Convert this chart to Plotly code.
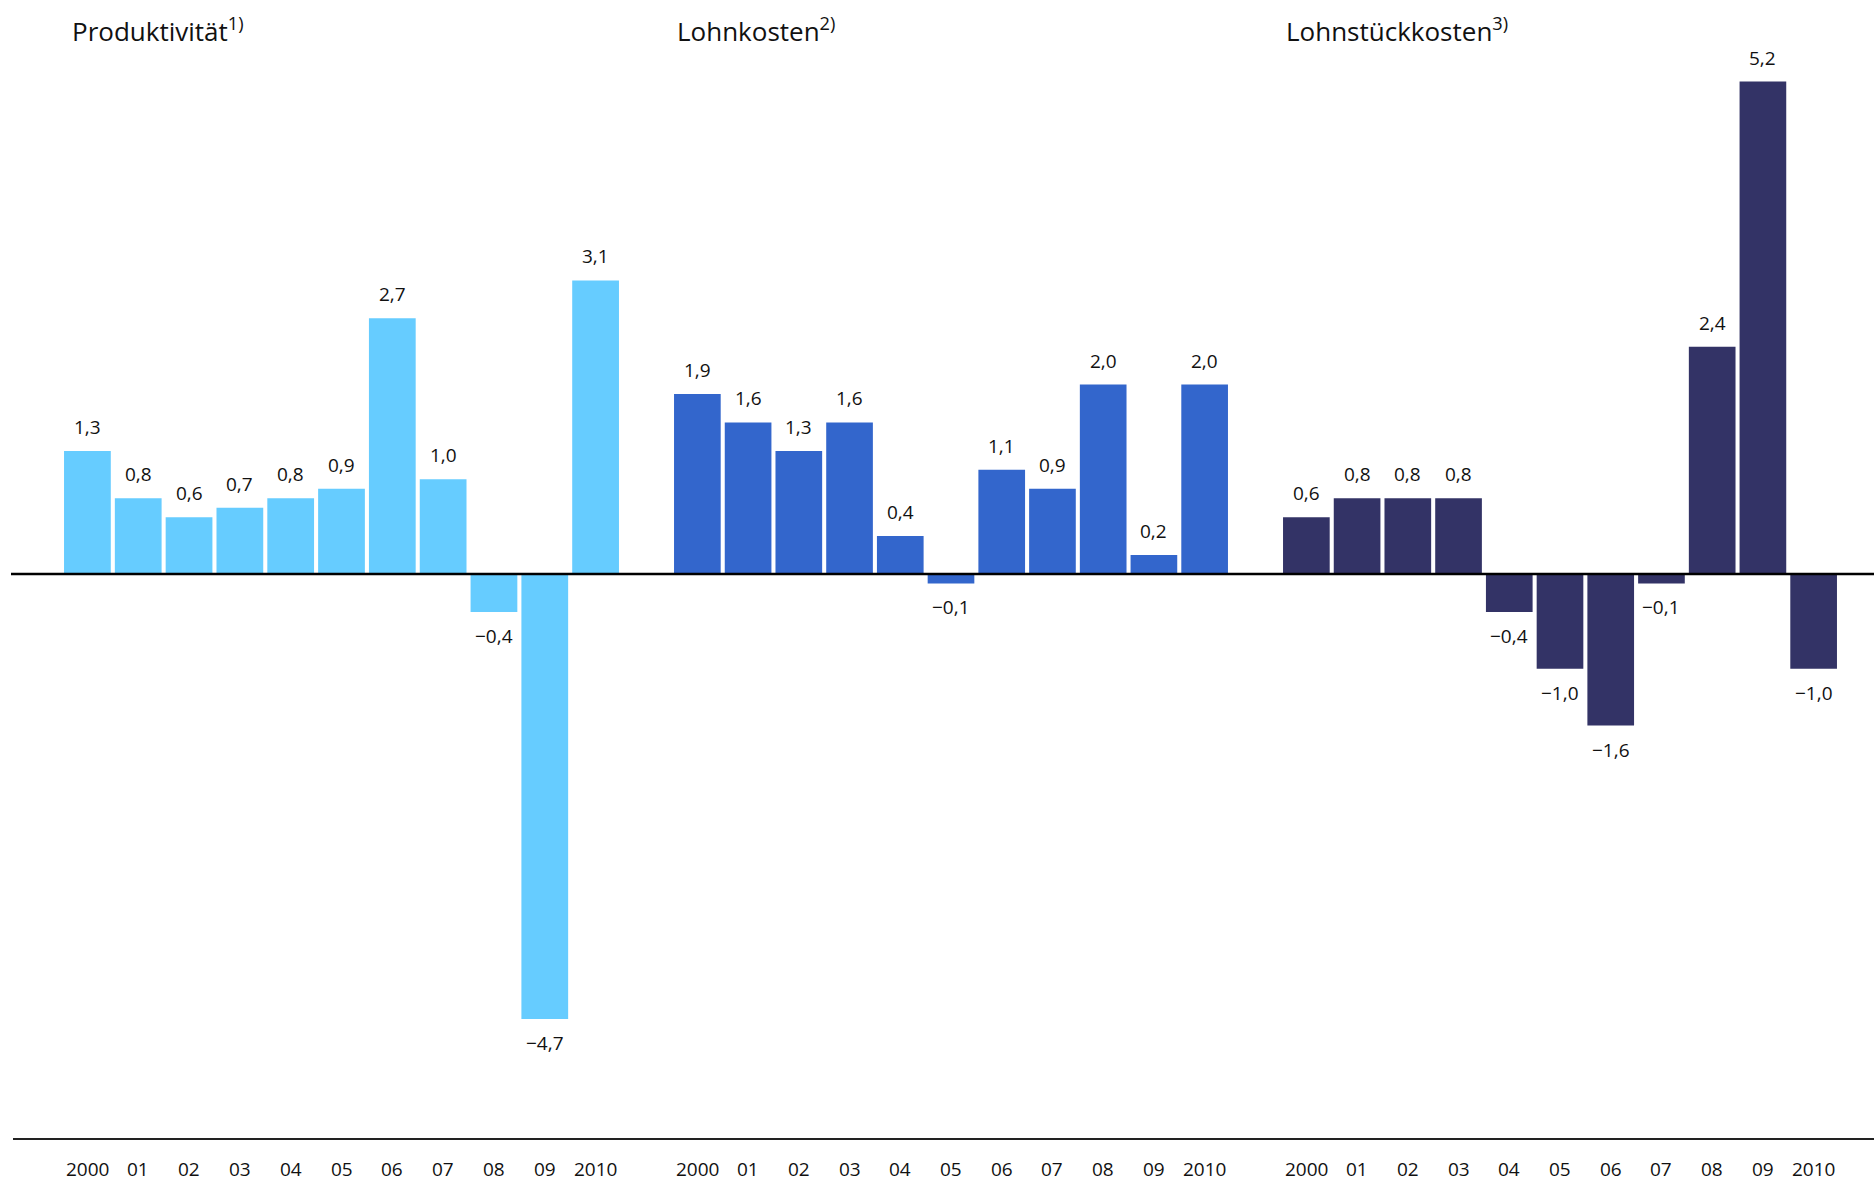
import plotly.graph_objects as go

# Jahresveränderung in % – drei Kennzahlen, 2000 bis 2010
years = ["2000", "01", "02", "03", "04", "05", "06", "07", "08", "09", "2010"]

produktivitaet = [1.3, 0.8, 0.6, 0.7, 0.8, 0.9, 2.7, 1.0, -0.4, -4.7, 3.1]
lohnkosten = [1.9, 1.6, 1.3, 1.6, 0.4, -0.1, 1.1, 0.9, 2.0, 0.2, 2.0]
lohnstueckkosten = [0.6, 0.8, 0.8, 0.8, -0.4, -1.0, -1.6, -0.1, 2.4, 5.2, -1.0]

titles = ["Produktivität<sup>1)</sup>", "Lohnkosten<sup>2)</sup>", "Lohnstückkosten<sup>3)</sup>"]
colors = ["#66CCFF", "#3366CC", "#333366"]
series = [produktivitaet, lohnkosten, lohnstueckkosten]

W, H = 1874, 1184
FONT = "Open Sans"

# horizontal pixel extents of the three panels
panels_px = [(62.0, 621.0), (672.0, 1230.0), (1281.0, 1839.0)]
title_shift = [8, 3, 3]

# vertical scale: zero line at 574 px, ~94.7 px per percentage point
zero_px = 574.0
ppu = 94.7
y_top = zero_px / ppu
y_bot = -(H - zero_px) / ppu

# slot index of each year within a panel
slots = list(range(len(years)))


def fmt(v):
    s = f"{abs(v):.1f}".replace(".", ",")
    return ("\u2212" + s) if v < 0 else s


fig = go.Figure()
annotations = []

for i, (vals, col, title) in enumerate(zip(series, colors, titles)):
    xa = "x" if i == 0 else f"x{i + 1}"
    fig.add_trace(go.Bar(
        x=slots, y=vals, xaxis=xa, yaxis="y",
        marker=dict(color=col, line=dict(width=0)),
        customdata=years, hovertemplate="%{customdata}: %{y}<extra></extra>",
        showlegend=False,
    ))
    # value labels above / below the bars
    for s, v in zip(slots, vals):
        annotations.append(dict(
            x=s, y=v, xref=xa, yref="y", text=fmt(v), showarrow=False,
            yanchor="middle", xanchor="center", yshift=24 if v >= 0 else -24,
            font=dict(family=FONT, size=19, color="#111111"),
        ))
    # year labels along the bottom edge
    for s, yr in zip(slots, years):
        annotations.append(dict(
            x=s, y=0, xref=xa, yref="paper", text=yr,
            showarrow=False, yanchor="bottom", xanchor="center",
            font=dict(family=FONT, size=19, color="#111111"),
        ))
    # panel title
    annotations.append(dict(
        x=0, y=1 - 30 / H, xref=f"{xa} domain", yref="paper", text=title,
        showarrow=False, xanchor="left", yanchor="middle", xshift=title_shift[i],
        font=dict(family=FONT, size=26, color="#111111"),
    ))

axis_common = dict(type="linear", range=[-0.5, len(years) - 0.5],
                   showticklabels=False, showgrid=False, zeroline=False,
                   showline=False, ticks="", fixedrange=True)

layout = dict(
    width=W, height=H,
    margin=dict(l=0, r=0, t=0, b=0),
    paper_bgcolor="white", plot_bgcolor="white",
    bargap=0.08,
    yaxis=dict(range=[y_bot, y_top], domain=[0, 1], visible=False, fixedrange=True),
    annotations=annotations,
    shapes=[
        # zero line across all panels
        dict(type="line", xref="paper", yref="y", x0=11 / W, x1=1, y0=0, y1=0,
             line=dict(color="#000000", width=2.4), layer="above"),
        # baseline above the year labels
        dict(type="line", xref="paper", yref="paper", x0=13 / W, x1=1,
             y0=1 - 1139 / H, y1=1 - 1139 / H,
             line=dict(color="#222222", width=2), layer="above"),
    ],
)

for i, (a, b) in enumerate(panels_px):
    key = "xaxis" if i == 0 else f"xaxis{i + 1}"
    layout[key] = dict(domain=[a / W, b / W], anchor="y", **axis_common)

fig.update_layout(**layout)
fig.write_html("out.html")
